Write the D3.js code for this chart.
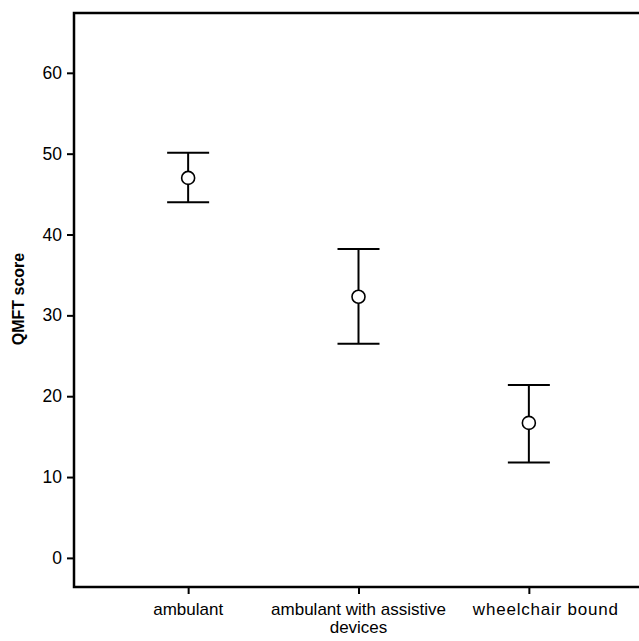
<!DOCTYPE html>
<html>
<head>
<meta charset="utf-8">
<script src="https://cdn.jsdelivr.net/npm/d3@7"></script>
<style>
  body { margin: 0; background: #fff; }
  svg { display: block; }
  text { font-family: "Liberation Sans", Arial, sans-serif; fill: #000; }
</style>
</head>
<body>
<svg id="chart" width="639" height="641"></svg>
<script>
// groups and their mean / CI values
var groups = ["ambulant", "ambulant with assistive devices", "wheelchair bound"];
var groupLines = [["ambulant"], ["ambulant with assistive", "devices"], ["wheelchair bound"]];
var means = [47.0, 32.3, 16.7];
var upper = [50.1, 38.2, 21.4];
var lower = [44.0, 26.5, 11.8];
var yTicks = [0, 10, 20, 30, 40, 50, 60];

var svg = d3.select("#chart");
var plotL = 74, plotR = 643, plotT = 13, plotB = 587;

var x = d3.scalePoint().domain(groups).range([plotL, plotR]).padding(0.67);
var y = d3.scaleLinear().domain([-3.6, 67.4]).range([plotB, plotT]);

// frame
svg.append("rect")
  .attr("x", plotL).attr("y", plotT)
  .attr("width", plotR - plotL).attr("height", plotB - plotT)
  .attr("fill", "none").attr("stroke", "#000").attr("stroke-width", 2.5);

// y axis ticks
var yAxis = d3.axisLeft(y).tickValues(yTicks).tickSize(7).tickPadding(5);
var gy = svg.append("g").attr("transform", "translate(" + plotL + ",0)").call(yAxis);
gy.select(".domain").remove();
gy.selectAll("line").attr("stroke-width", 2);
gy.selectAll("text").style("font-size", "17.5px").style("font-family", "Liberation Sans, Arial, sans-serif");

// x axis ticks
var xAxis = d3.axisBottom(x).tickSize(7).tickFormat("");
var gx = svg.append("g").attr("transform", "translate(0," + plotB + ")").call(xAxis);
gx.select(".domain").remove();
gx.selectAll("line").attr("stroke-width", 2);

groups.forEach(function (g, i) {
  // the last label sits a little right of its tick in the original
  var cx = x(g) + (i == groups.length - 1 ? 17 : 0);
  var t = svg.append("text")
    .attr("x", cx).attr("y", 615)
    .attr("text-anchor", "middle")
    .style("font-size", "17px")
    .style("letter-spacing", i == groups.length - 1 ? "0.8px" : "0px");
  groupLines[i].forEach(function (s, j) {
    t.append("tspan").attr("x", cx).attr("dy", j == 0 ? 0 : 18).text(s);
  });
});

// y title
svg.append("text")
  .attr("transform", "translate(24," + 299 + ") rotate(-90)")
  .attr("text-anchor", "middle")
  .style("font-size", "16px").style("font-weight", "bold")
  .text("QMFT score");

// error bars
var cap = 21;
var bars = svg.append("g").selectAll("g").data(groups).enter().append("g");

bars.append("line")
  .attr("x1", function (d) { return x(d); }).attr("x2", function (d) { return x(d); })
  .attr("y1", function (d, i) { return y(upper[i]); })
  .attr("y2", function (d, i) { return y(lower[i]); })
  .attr("stroke", "#000").attr("stroke-width", 2);

bars.append("line")
  .attr("x1", function (d) { return x(d) - cap; }).attr("x2", function (d) { return x(d) + cap; })
  .attr("y1", function (d, i) { return y(upper[i]); })
  .attr("y2", function (d, i) { return y(upper[i]); })
  .attr("stroke", "#000").attr("stroke-width", 2);

bars.append("line")
  .attr("x1", function (d) { return x(d) - cap; }).attr("x2", function (d) { return x(d) + cap; })
  .attr("y1", function (d, i) { return y(lower[i]); })
  .attr("y2", function (d, i) { return y(lower[i]); })
  .attr("stroke", "#000").attr("stroke-width", 2);

bars.append("circle")
  .attr("cx", function (d) { return x(d); })
  .attr("cy", function (d, i) { return y(means[i]); })
  .attr("r", 6.5)
  .attr("fill", "#fff").attr("stroke", "#000").attr("stroke-width", 1.6);
</script>
</body>
</html>
